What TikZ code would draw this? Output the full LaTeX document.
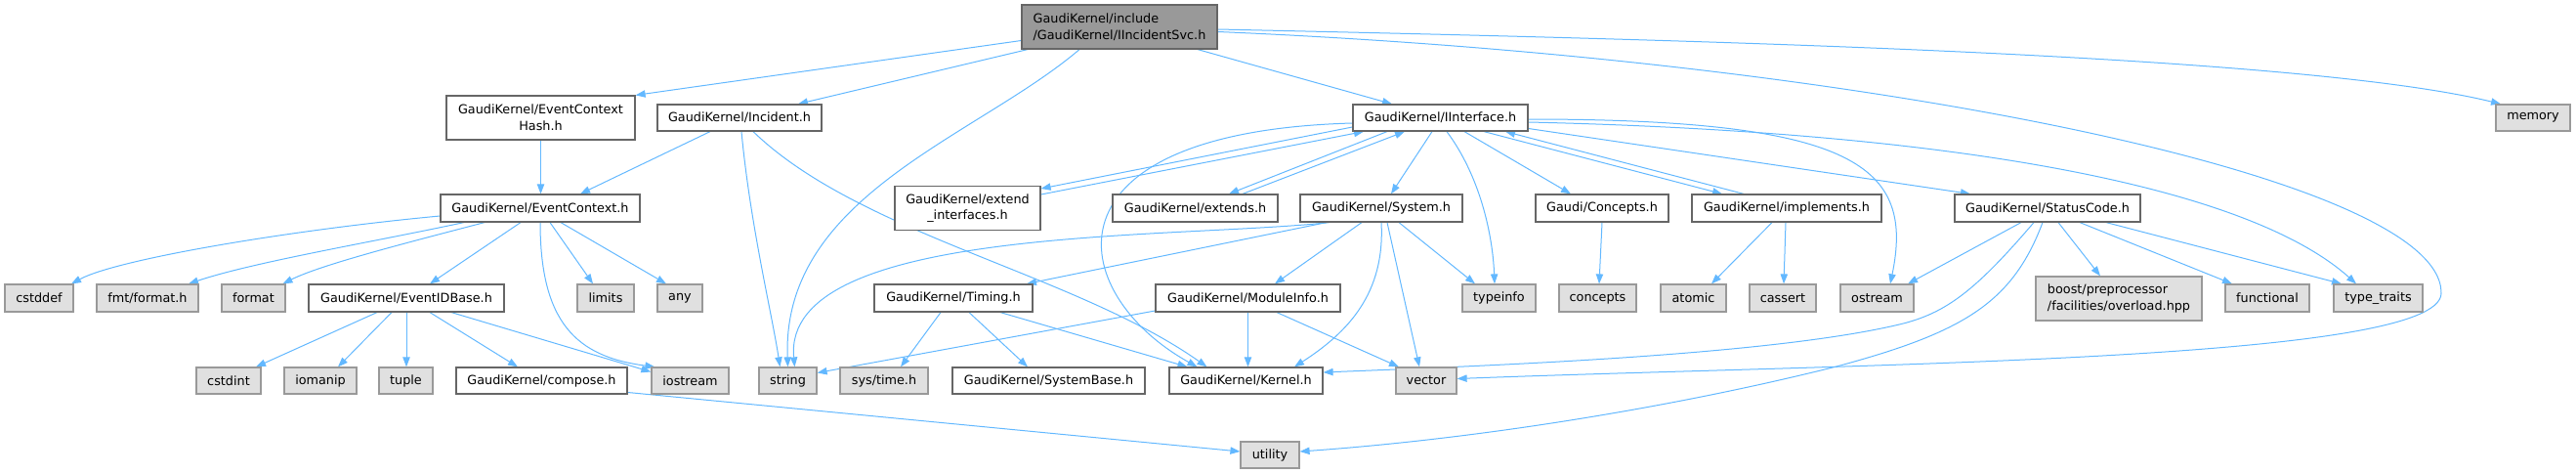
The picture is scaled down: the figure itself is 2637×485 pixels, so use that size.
\documentclass[tikz,border=0pt]{standalone}
\usepackage{fontspec}
\setmainfont{DejaVu Sans}
\usetikzlibrary{arrows.meta,calc}
\definecolor{edgec}{HTML}{63B8FF}
\definecolor{bord}{HTML}{666666}
\definecolor{gbord}{HTML}{999999}
\definecolor{gfill}{HTML}{E0E0E0}
\definecolor{rfill}{HTML}{999999}
\pgfdeclarelayer{bg}
\pgfsetlayers{bg,main}
\tikzset{
 base/.style={rectangle, inner sep=0pt, line width=0.9pt, font=\fontsize{9.6}{12.5}\selectfont, text=black},
 wbox/.style={base, draw=bord, fill=white},
 gbox/.style={base, draw=gbord, fill=gfill},
 rbox/.style={base, draw=bord, fill=rfill, align=left},
 e/.style={draw=edgec, line width=0.75pt, -{Triangle[length=7.5pt,width=5.5pt]}},
}
\newcommand{\gnode}[7]{\node[#2, minimum width={(#5-#3)*0.75pt}, minimum height={(#6-#4)*0.75pt}] (#1) at ({(#3+#5)/2},{(#4+#6)/2}) {#7};}
\begin{document}
\begin{tikzpicture}[x=0.75pt,y=-0.75pt]
\useasboundingbox (0,0) rectangle (2637,485);
% row 1
\gnode{root}{rbox}{1046}{5}{1246}{50}{GaudiKernel/include\\/GaudiKernel/IIncidentSvc.h}
% row 2
\gnode{hash}{wbox,align=center}{457}{98}{650}{143}{GaudiKernel/EventContext\\Hash.h}
\gnode{incident}{wbox}{673}{107}{841}{134}{GaudiKernel/Incident.h}
\gnode{iinterface}{wbox}{1385}{107}{1564}{134}{GaudiKernel/IInterface.h}
\gnode{memory}{gbox}{2555}{107}{2631}{134}{memory}
% row 3
\gnode{eventcontext}{wbox}{451}{199}{655}{227}{GaudiKernel/EventContext.h}
\gnode{extendif}{wbox,align=center}{916}{190.5}{1065}{235.5}{GaudiKernel/extend\\\_interfaces.h}
\gnode{extends}{wbox}{1139}{199}{1308}{227}{GaudiKernel/extends.h}
\gnode{system}{wbox}{1331}{199}{1497}{227}{GaudiKernel/System.h}
\gnode{conceptsh}{wbox}{1572}{199}{1708}{227}{Gaudi/Concepts.h}
\gnode{implements}{wbox}{1732}{199}{1926}{227}{GaudiKernel/implements.h}
\gnode{statuscode}{wbox}{2001}{199}{2191}{227}{GaudiKernel/StatusCode.h}
% row 4
\gnode{cstddef}{gbox}{5}{291}{75}{319}{cstddef}
\gnode{fmtformat}{gbox}{99}{291}{203}{319}{fmt/format.h}
\gnode{format}{gbox}{227}{291}{292}{319}{format}
\gnode{eventidbase}{wbox}{316}{291}{516}{319}{GaudiKernel/EventIDBase.h}
\gnode{limits}{gbox}{591}{291}{649}{319}{limits}
\gnode{any}{gbox}{673}{291}{719}{319}{any}
\gnode{timing}{wbox}{895}{291}{1057}{319}{GaudiKernel/Timing.h}
\gnode{moduleinfo}{wbox}{1183}{291}{1372}{319}{GaudiKernel/ModuleInfo.h}
\gnode{typeinfo}{gbox}{1497}{291}{1572}{319}{typeinfo}
\gnode{concepts}{gbox}{1596}{291}{1675}{319}{concepts}
\gnode{atomic}{gbox}{1700}{291}{1767}{319}{atomic}
\gnode{cassert}{gbox}{1791}{291}{1859}{319}{cassert}
\gnode{ostream}{gbox}{1884}{291}{1959}{319}{ostream}
\gnode{boost}{gbox,align=left}{2084}{283}{2254}{328}{boost/preprocessor\\/facilities/overload.hpp}
\gnode{functional}{gbox}{2278}{291}{2364}{319}{functional}
\gnode{typetraits}{gbox}{2389}{291}{2480}{319}{type\_traits}
% row 5
\gnode{cstdint}{gbox}{201}{376}{267}{403}{cstdint}
\gnode{iomanip}{gbox}{291}{376}{365}{403}{iomanip}
\gnode{tuple}{gbox}{388}{376}{443}{403}{tuple}
\gnode{compose}{wbox}{467}{376}{642}{403}{GaudiKernel/compose.h}
\gnode{iostream}{gbox}{667}{376}{746}{403}{iostream}
\gnode{string}{gbox}{777}{376}{836}{403}{string}
\gnode{systime}{gbox}{860}{376}{950}{403}{sys/time.h}
\gnode{systembase}{wbox}{975}{376}{1172}{403}{GaudiKernel/SystemBase.h}
\gnode{kernel}{wbox}{1197}{376}{1354}{403}{GaudiKernel/Kernel.h}
\gnode{vector}{gbox}{1429}{376}{1491}{403}{vector}
% row 6
\gnode{utility}{gbox}{1270}{452}{1330}{479}{utility}

\begin{pgfonlayer}{bg}
% root
\draw[e] ([shift={(0,14)}]root.west) -- (hash.north east);
\draw[e] ([shift={(-94,0)}]root.south) -- ([shift={(60,0)}]incident.north);
\draw[e] ([shift={(-41,0)}]root.south) .. controls (1000,140) and (800,200) .. (string.north);
\draw[e] ([shift={(80,0)}]root.south) -- ([shift={(-49.5,0)}]iinterface.north);
\draw[e] ([shift={(0,2.5)}]root.east) .. controls (1700,40) and (2350,55) .. ([shift={(-33,0)}]memory.north);
\draw[e] ([shift={(0,5)}]root.east) .. controls (1900,60) and (2500,180) .. (2499,300) .. controls (2499,370) and (1900,372) .. ([shift={(0,-2)}]vector.east);
% incident
\draw[e] ([shift={(-30,0)}]incident.south) -- ([shift={(41,0)}]eventcontext.north);
\draw[e] ([shift={(2,0)}]incident.south) .. controls (768,230) and (790,320) .. ([shift={(-8,0)}]string.north);
\draw[e] ([shift={(14,0)}]incident.south) .. controls (880,240) and (1100,280) .. ([shift={(-40,0)}]kernel.north);
% hash
\draw[e] (hash.south) -- (hash.south |- eventcontext.north);
% eventcontext
\draw[e] ([shift={(0,8)}]eventcontext.west) .. controls (300,235) and (120,265) .. ([shift={(33,0)}]cstddef.north);
\draw[e] ([shift={(-78,0)}]eventcontext.south) .. controls (380,248) and (260,268) .. ([shift={(42,0)}]fmtformat.north);
\draw[e] ([shift={(-57,0)}]eventcontext.south) .. controls (430,245) and (330,270) .. ([shift={(30,0)}]format.north);
\draw[e] ([shift={(-20,0)}]eventcontext.south) -- ([shift={(24,0)}]eventidbase.north);
\draw[e] (eventcontext.south) .. controls (553,330) and (590,365) .. ([shift={(4,0)}]iostream.north west);
\draw[e] ([shift={(10,0)}]eventcontext.south) -- ([shift={(-13,0)}]limits.north);
\draw[e] ([shift={(21,0)}]eventcontext.south) -- ([shift={(-14,0)}]any.north);
% eventidbase
\draw[e] ([shift={(-30,0)}]eventidbase.south) -- ([shift={(28,0)}]cstdint.north);
\draw[e] ([shift={(-15,0)}]eventidbase.south) -- ([shift={(18,0)}]iomanip.north);
\draw[e] (eventidbase.south) -- (eventidbase.south |- tuple.north);
\draw[e] ([shift={(24,0)}]eventidbase.south) -- ([shift={(-24.5,0)}]compose.north);
\draw[e] ([shift={(46,0)}]eventidbase.south) -- ([shift={(0,-9)}]iostream.west);
% compose
\draw[e] ([shift={(0,12)}]compose.east) -- ([shift={(0,-3.5)}]utility.west);
% iinterface
\draw[e] ([shift={(0,9.5)}]iinterface.west) -- ([shift={(0,-20)}]extendif.east);
\draw[e] ([shift={(0,-14)}]extendif.east) -- ([shift={(-78.5,0)}]iinterface.south);
\draw[e] ([shift={(-54.5,0)}]iinterface.south) -- ([shift={(34.5,0)}]extends.north);
\draw[e] ([shift={(48.5,0)}]extends.north) -- ([shift={(-36.5,0)}]iinterface.south);
\draw[e] ([shift={(0,5.5)}]iinterface.west) .. controls (1060,135) and (1090,300) .. ([shift={(-50,0)}]kernel.north);
\draw[e] ([shift={(-8.5,0)}]iinterface.south) -- ([shift={(10,0)}]system.north);
\draw[e] ([shift={(6.5,0)}]iinterface.south) .. controls (1515,180) and (1528,240) .. ([shift={(-4.5,0)}]typeinfo.north);
\draw[e] ([shift={(24.5,0)}]iinterface.south) -- ([shift={(-32,0)}]conceptsh.north);
\draw[e] ([shift={(44.5,0)}]iinterface.south) -- ([shift={(-66,0)}]implements.north);
\draw[e] ([shift={(-44,0)}]implements.north) -- ([shift={(66.5,0)}]iinterface.south);
\draw[e] ([shift={(0,1.5)}]iinterface.east) .. controls (1900,122) and (1960,170) .. ([shift={(13.5,0)}]ostream.north);
\draw[e] ([shift={(0,11)}]iinterface.east) -- ([shift={(-79,0)}]statuscode.north);
\draw[e] ([shift={(0,4.5)}]iinterface.east) .. controls (2000,135) and (2300,190) .. ([shift={(-22.5,0)}]typetraits.north);
% statuscode
\draw[e] ([shift={(-27,0)}]statuscode.south) -- ([shift={(31.5,0)}]ostream.north);
\draw[e] ([shift={(-14,0)}]statuscode.south) .. controls (2020,300) and (1990,322) .. (1940,333) .. controls (1800,365) and (1500,375) .. ([shift={(0,-8.5)}]kernel.east);
\draw[e] ([shift={(-5,0)}]statuscode.south) .. controls (2060,310) and (2010,340) .. (1880,375) .. controls (1700,420) and (1500,450) .. ([shift={(0,-3.5)}]utility.east);
\draw[e] ([shift={(11,0)}]statuscode.south) -- ([shift={(-19,0)}]boost.north);
\draw[e] ([shift={(33,0)}]statuscode.south) -- ([shift={(-36,0)}]functional.north);
\draw[e] ([shift={(60,0)}]statuscode.south) -- ([shift={(-37.5,0)}]typetraits.north);
% implements, concepts
\draw[e] ([shift={(-15,0)}]implements.south) -- ([shift={(18.5,0)}]atomic.north);
\draw[e] ([shift={(-1,0)}]implements.south) -- ([shift={(1,0)}]cassert.north);
\draw[e] (conceptsh.south) -- ([shift={(1.5,0)}]concepts.north);
% system
\draw[e] ([shift={(-53,0)}]system.south) .. controls (1200,245) and (800,230) .. ([shift={(7,0)}]string.north);
\draw[e] ([shift={(-56,0)}]system.south) -- ([shift={(75,0)}]timing.north);
\draw[e] ([shift={(-20,0)}]system.south) -- ([shift={(27.5,0)}]moduleinfo.north);
\draw[e] (system.south) .. controls (1418,300) and (1380,340) .. ([shift={(49.5,0)}]kernel.north);
\draw[e] ([shift={(6,0)}]system.south) -- ([shift={(-7,0)}]vector.north);
\draw[e] ([shift={(18,0)}]system.south) -- ([shift={(-24.5,0)}]typeinfo.north);
% timing
\draw[e] ([shift={(-13,0)}]timing.south) -- ([shift={(17,0)}]systime.north);
\draw[e] ([shift={(16,0)}]timing.south) -- ([shift={(-21.5,0)}]systembase.north);
\draw[e] ([shift={(48,0)}]timing.south) -- ([shift={(-60,0)}]kernel.north);
% moduleinfo
\draw[e] ([shift={(0,13)}]moduleinfo.west) -- ([shift={(0,-8)}]string.east);
\draw[e] (moduleinfo.south) -- (moduleinfo.south |- kernel.north);
\draw[e] ([shift={(29.5,0)}]moduleinfo.south) -- ([shift={(-28,0)}]vector.north);
\end{pgfonlayer}
\end{tikzpicture}
\end{document}
